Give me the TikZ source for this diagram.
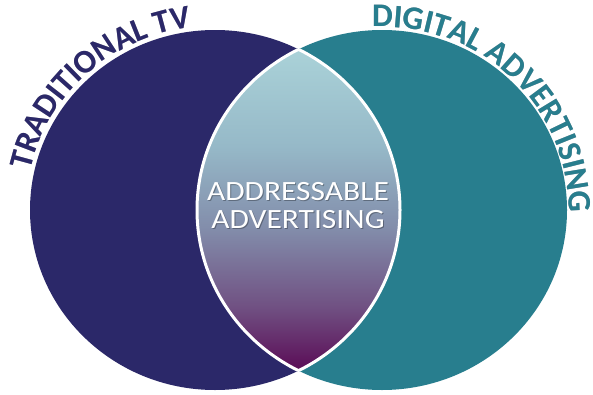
\documentclass[tikz,border=0pt]{standalone}
\usepackage{fontspec}
\setmainfont{Carlito}
\usetikzlibrary{decorations.text}
\definecolor{navy}{RGB}{43,40,105}
\definecolor{tealc}{RGB}{40,126,142}
\definecolor{lensA}{RGB}{90,10,85}
\definecolor{lensB}{RGB}{112,80,130}
\definecolor{lensC}{RGB}{130,140,170}
\definecolor{lensD}{RGB}{150,185,200}
\definecolor{lensE}{RGB}{170,210,216}
\definecolor{shadowc}{RGB}{150,150,160}
\pgfdeclareverticalshading{lensshade}{100bp}{color(0bp)=(lensA); color(25bp)=(lensA); color(35bp)=(lensB); color(47bp)=(lensC); color(60bp)=(lensD); color(75bp)=(lensE); color(100bp)=(lensE)}
\tikzset{
  venn/.style={x radius=185, y radius=180},
  lensedge/.style={draw=white, line width=3bp},
  centertext/.style={text=white, font=\fontsize{28}{28}\selectfont, inner sep=0pt, anchor=base},
  curvedlabel/.style={decorate, decoration={text along path, text align=center,
     text={|\fontsize{33}{33}\selectfont\bfseries|#1}}}
}
\begin{document}
\begin{tikzpicture}[x=1bp,y=1bp]
\useasboundingbox (0,0) rectangle (593,394);
\coordinate (L) at (215,184);
\coordinate (R) at (382,184);
% circles
\fill[navy] (L) ellipse[venn];
\fill[tealc] (R) ellipse[venn];
% lens
\begin{scope}
  \clip (L) ellipse[venn];
  \clip (R) ellipse[venn];
  \shade[shading=lensshade] (195,22) rectangle (402,345);
\end{scope}
\begin{scope}
  \clip (L) ellipse[venn];
  \draw[lensedge] (R) ellipse[venn];
\end{scope}
\begin{scope}
  \clip (R) ellipse[venn];
  \draw[lensedge] (L) ellipse[venn];
\end{scope}
% centre text (shadow, then text)
\node[centertext, text=black, opacity=0.3] (addr1s) at (299,193) {\scalebox{1.13}[1]{ADDRESSABLE}};
\node[centertext, text=black, opacity=0.3] (addr2s) at (299,165) {\scalebox{1.13}[1]{ADVERTISING}};
\node[centertext] (addr1) at (298,194) {\scalebox{1.13}[1]{ADDRESSABLE}};
\node[centertext] (addr2) at (298,166) {\scalebox{1.13}[1]{ADVERTISING}};
% curved labels (shadow, then text)
\path[curvedlabel=TRADITIONAL TV, decoration={text color=shadowc}, shift={(1.5,-1.5)}]
  (L) ++(180:189 and 184) arc[start angle=180, end angle=85, x radius=189, y radius=184];
\path[curvedlabel=TRADITIONAL TV, decoration={text color=navy}]
  (L) ++(180:189 and 184) arc[start angle=180, end angle=85, x radius=189, y radius=184];
\path[curvedlabel=DIGITAL ADVERTISING, decoration={text color=shadowc}, shift={(1.5,-1.5)}]
  (R) ++(101:187 and 183) arc[start angle=101, end angle=-9, x radius=187, y radius=183];
\path[curvedlabel=DIGITAL ADVERTISING, decoration={text color=tealc}]
  (R) ++(101:187 and 183) arc[start angle=101, end angle=-9, x radius=187, y radius=183];
\end{tikzpicture}
\end{document}
